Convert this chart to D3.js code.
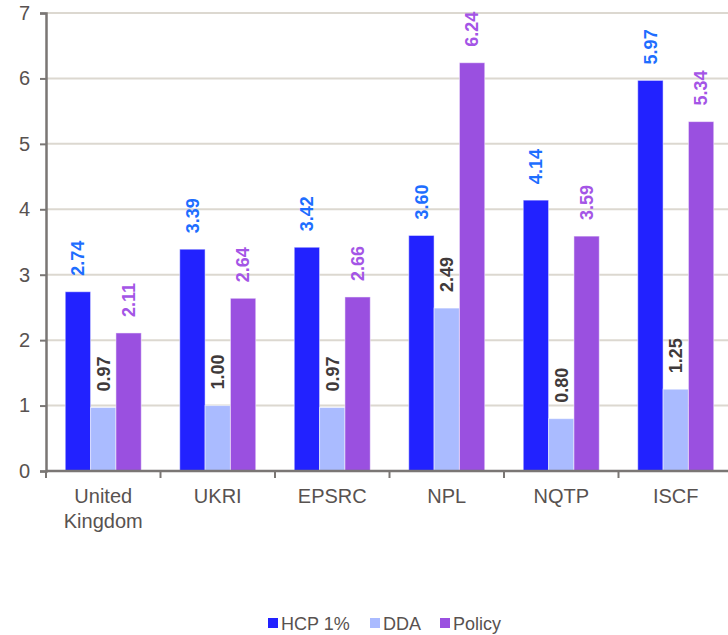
<!DOCTYPE html>
<html lang="en">
<head>
<meta charset="utf-8">
<script src="https://d3js.org/d3.v7.min.js"></script>
<style>
  body { margin: 0; background: #fff; }
  text { font-family: "Liberation Sans", Arial, sans-serif; }
</style>
</head>
<body>
<svg width="728" height="635"></svg>
<script>
var categories = ["United Kingdom", "UKRI", "EPSRC", "NPL", "NQTP", "ISCF"];
var seriesNames = ["HCP 1%", "DDA", "Policy"];
var hcp = [2.74, 3.39, 3.42, 3.60, 4.14, 5.97];
var dda = [0.97, 1.00, 0.97, 2.49, 0.80, 1.25];
var policy = [2.11, 2.64, 2.66, 6.24, 3.59, 5.34];
var yTicks = [0, 1, 2, 3, 4, 5, 6, 7];

var barColors = ["#2222ff", "#aabbff", "#9a50e0"];
var labelColors = ["#1e6eff", "#403a3a", "#a455e6"];

var svg = d3.select("svg");

var y = d3.scaleLinear().domain([0, 7]).range([471, 13]);
var x0 = d3.scaleBand().domain(categories).range([46, 733]).paddingInner(0.336).paddingOuter(0.168);
var x1 = d3.scaleBand().domain(seriesNames).range([0, x0.bandwidth()]);

var rows = categories.map(function(c, i) {
  return { cat: c, vals: [hcp[i], dda[i], policy[i]] };
});

// gridlines
svg.append("g")
  .selectAll("line")
  .data(yTicks.filter(function(d) { return d > 0; }))
  .enter().append("line")
    .attr("x1", 46).attr("x2", 728)
    .attr("y1", function(d) { return y(d); })
    .attr("y2", function(d) { return y(d); })
    .attr("stroke", "#dcd8d0")
    .attr("stroke-width", 2);

// bars
var groups = svg.append("g")
  .selectAll("g")
  .data(rows)
  .enter().append("g")
    .attr("transform", function(d) { return "translate(" + x0(d.cat) + ",0)"; });

groups.selectAll("rect")
  .data(function(d) { return d.vals.map(function(v, j) { return { s: seriesNames[j], v: v, j: j }; }); })
  .enter().append("rect")
    .attr("x", function(d) { return x1(d.s); })
    .attr("width", x1.bandwidth())
    .attr("y", function(d) { return y(d.v); })
    .attr("height", function(d) { return y(0) - y(d.v); })
    .attr("fill", function(d) { return barColors[d.j]; })
    .attr("stroke", "#ffffff")
    .attr("stroke-opacity", 0.5)
    .attr("stroke-width", 1);

groups.selectAll("text")
  .data(function(d) { return d.vals.map(function(v, j) { return { s: seriesNames[j], v: v, j: j }; }); })
  .enter().append("text")
    .attr("transform", function(d) {
      return "translate(" + (x1(d.s) + x1.bandwidth() / 2) + "," + (y(d.v) - 16) + ") rotate(-90)";
    })
    .attr("dy", "0.35em")
    .attr("text-anchor", "start")
    .attr("font-size", "18px")
    .attr("font-weight", "bold")
    .attr("fill", function(d) { return labelColors[d.j]; })
    .text(function(d) { return d.v.toFixed(2); });

// y axis
var yAxis = svg.append("g")
  .attr("transform", "translate(46,0)")
  .call(d3.axisLeft(y).tickValues(yTicks).tickSize(6).tickPadding(10).tickFormat(d3.format("d")));
yAxis.select(".domain").attr("stroke", "#7a7674").attr("stroke-width", 2.5);
yAxis.selectAll(".tick line").attr("stroke", "#7a7674").attr("stroke-width", 2);
yAxis.selectAll(".tick text").attr("font-size", "20px").attr("fill", "#585250");

// x axis
var xAxisLine = svg.append("g");
xAxisLine.append("line")
  .attr("x1", 46).attr("x2", 728)
  .attr("y1", y(0)).attr("y2", y(0))
  .attr("stroke", "#7a7674").attr("stroke-width", 2.5);
var bounds = categories.map(function(c) { return x0(c) - x0.step() * x0.paddingInner() / 2; });
xAxisLine.selectAll("line.tk")
  .data(bounds)
  .enter().append("line")
    .attr("class", "tk")
    .attr("x1", function(d) { return d; }).attr("x2", function(d) { return d; })
    .attr("y1", y(0)).attr("y2", y(0) + 7)
    .attr("stroke", "#7a7674").attr("stroke-width", 2);

var xl = svg.append("g")
  .selectAll("text")
  .data(categories)
  .enter().append("text")
    .attr("x", function(d) { return x0(d) + x0.bandwidth() / 2; })
    .attr("y", 503)
    .attr("text-anchor", "middle")
    .attr("font-size", "20px")
    .attr("fill", "#585250");
xl.each(function(d) {
  var words = d.split(" ");
  var t = d3.select(this);
  words.forEach(function(w, i) {
    t.append("tspan")
      .attr("x", x0(d) + x0.bandwidth() / 2)
      .attr("dy", i === 0 ? 0 : 25)
      .text(w);
  });
});

// legend
var legendX = [268, 370, 440];
var legend = svg.append("g")
  .selectAll("g")
  .data(seriesNames)
  .enter().append("g")
    .attr("transform", function(d, i) { return "translate(" + legendX[i] + ",618)"; });
legend.append("rect")
  .attr("width", 10).attr("height", 10)
  .attr("fill", function(d, i) { return barColors[i]; });
legend.append("text")
  .attr("x", 13).attr("y", 12)
  .attr("font-size", "18px")
  .attr("fill", "#585250")
  .text(function(d) { return d; });
</script>
</body>
</html>
